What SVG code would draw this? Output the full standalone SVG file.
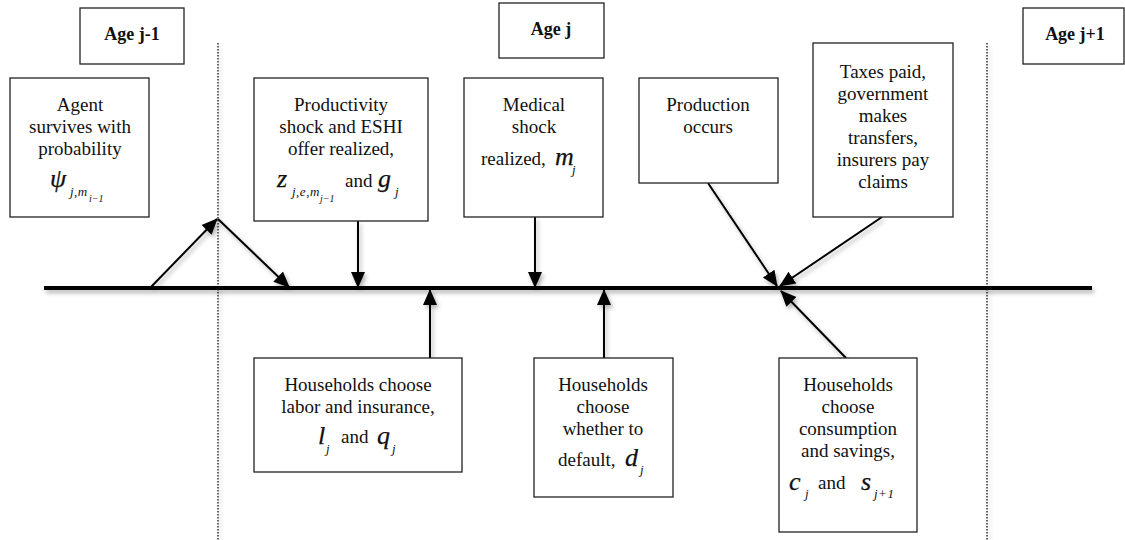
<svg xmlns="http://www.w3.org/2000/svg" width="1125" height="540" viewBox="0 0 1125 540">
<style>
.box{fill:#fff;stroke:#222;stroke-width:1.3}
text{font-family:'Liberation Serif',serif;fill:#111}
.t{font-size:19px;text-anchor:middle}
.h{font-size:18px;font-weight:bold;text-anchor:middle}
.m{font-style:italic;font-size:26px;stroke:#111;stroke-width:0.25}
.s{font-style:italic;font-size:13px;letter-spacing:0.5px}
.ss{font-style:italic;font-size:10px}
.a{font-size:19px}
.c{stroke:#000;stroke-width:2;fill:none;marker-end:url(#ah)}
.dot{stroke:#333;stroke-width:1.5;stroke-dasharray:1.5 1.5;fill:none}
</style>
<defs>
<marker id="ah" markerUnits="userSpaceOnUse" markerWidth="16" markerHeight="16" viewBox="0 0 16 16" refX="15" refY="8" orient="auto">
<path d="M0,1 L16,8 L0,15 Z" fill="#000"/>
</marker>
<filter id="sh" x="-5%" y="-20%" width="110%" height="140%">
<feDropShadow dx="2" dy="3" stdDeviation="2" flood-color="#000" flood-opacity="0.3"/>
</filter>
</defs>
<rect width="1125" height="540" fill="#fff"/>

<g id="dividers" filter="url(#sh)">
<line class="dot" x1="218" y1="43" x2="218" y2="540"/>
<line class="dot" x1="987" y1="43" x2="987" y2="540"/>
</g>

<g id="connectors" filter="url(#sh)">
<line x1="44" y1="288" x2="1092" y2="288" stroke="#000" stroke-width="4"/>
<line class="c" x1="150" y1="288" x2="217" y2="219"/>
<line class="c" x1="218" y1="219" x2="289" y2="287"/>
<line class="c" x1="358" y1="221" x2="358" y2="287"/>
<line class="c" x1="430" y1="358" x2="430" y2="290"/>
<line class="c" x1="535" y1="217" x2="535" y2="287"/>
<line class="c" x1="604" y1="358" x2="604" y2="290"/>
<line class="c" x1="708" y1="183" x2="777" y2="286"/>
<line class="c" x1="882" y1="217" x2="780" y2="286"/>
<line class="c" x1="846" y1="358" x2="781" y2="291"/>
</g>

<g id="age-j-1">
<rect class="box" x="80" y="8" width="104" height="56"/>
<text class="h" x="132" y="40">Age j-1</text>
</g>
<g id="age-j">
<rect class="box" x="499" y="3" width="105" height="55"/>
<text class="h" x="551" y="35">Age j</text>
</g>
<g id="age-j+1">
<rect class="box" x="1023" y="8" width="101" height="56"/>
<text class="h" x="1075" y="40">Age j+1</text>
</g>

<g id="agent">
<rect class="box" x="10" y="78" width="139" height="139"/>
<text class="t" x="80" y="111">Agent</text>
<text class="t" x="80" y="133">survives with</text>
<text class="t" x="80" y="155">probability</text>
<text class="m" x="50" y="187">ψ</text>
<text class="s" x="70" y="196">j,m</text>
<text class="ss" x="89" y="202">i−1</text>
</g>

<g id="productivity">
<rect class="box" x="254" y="78" width="174" height="143"/>
<text class="t" x="341" y="111">Productivity</text>
<text class="t" x="341" y="133">shock and ESHI</text>
<text class="t" x="341" y="155">offer realized,</text>
<text class="m" x="277" y="187">z</text>
<text class="s" x="292" y="196">j,e,m</text>
<text class="ss" x="320" y="202">j−1</text>
<text class="a" x="345" y="187">and</text>
<text class="m" x="378" y="187">g</text>
<text class="s" x="395" y="196">j</text>
</g>

<g id="medical">
<rect class="box" x="464" y="78" width="139" height="139"/>
<text class="t" x="534" y="111">Medical</text>
<text class="t" x="534" y="133">shock</text>
<text class="a" x="481" y="165">realized,</text>
<text class="m" x="555" y="165">m</text>
<text class="s" x="572" y="174">j</text>
</g>

<g id="production">
<rect class="box" x="639" y="78" width="139" height="105"/>
<text class="t" x="708" y="111">Production</text>
<text class="t" x="708" y="133">occurs</text>
</g>

<g id="taxes">
<rect class="box" x="813" y="43" width="140" height="174"/>
<text class="t" x="883" y="78">Taxes paid,</text>
<text class="t" x="883" y="100">government</text>
<text class="t" x="883" y="122">makes</text>
<text class="t" x="883" y="144">transfers,</text>
<text class="t" x="883" y="166">insurers pay</text>
<text class="t" x="883" y="188">claims</text>
</g>

<g id="labor">
<rect class="box" x="254" y="358" width="208" height="114"/>
<text class="t" x="358" y="391">Households choose</text>
<text class="t" x="358" y="413">labor and insurance,</text>
<text class="m" x="318" y="444">l</text>
<text class="s" x="326" y="453">j</text>
<text class="a" x="341" y="443">and</text>
<text class="m" x="377" y="444">q</text>
<text class="s" x="392" y="453">j</text>
</g>

<g id="default">
<rect class="box" x="534" y="358" width="139" height="139"/>
<text class="t" x="603" y="391">Households</text>
<text class="t" x="603" y="413">choose</text>
<text class="t" x="603" y="435">whether to</text>
<text class="a" x="558" y="466">default,</text>
<text class="m" x="625" y="466">d</text>
<text class="s" x="640" y="474">j</text>
</g>

<g id="consumption">
<rect class="box" x="779" y="358" width="138" height="174"/>
<text class="t" x="848" y="391">Households</text>
<text class="t" x="848" y="413">choose</text>
<text class="t" x="848" y="435">consumption</text>
<text class="t" x="848" y="457">and savings,</text>
<text class="m" x="789" y="490">c</text>
<text class="s" x="805" y="498">j</text>
<text class="a" x="818" y="489">and</text>
<text class="m" x="861" y="490">s</text>
<text class="s" x="874" y="498">j+1</text>
</g>
</svg>
